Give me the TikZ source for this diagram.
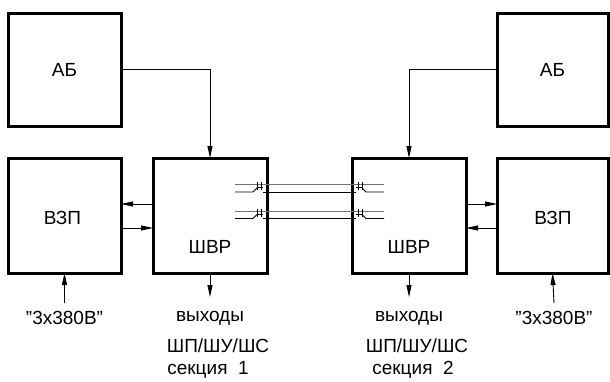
\documentclass[tikz,border=0pt]{standalone}
\usepackage{fontspec}
\setmainfont{Liberation Sans}
\usetikzlibrary{arrows.meta,calc}
\begin{document}
\begin{tikzpicture}[x=1pt,y=-1pt,
  box/.style={draw,line width=3pt,inner sep=0pt,outer sep=0pt},
  txt/.style={inner sep=0pt,font=\fontsize{19}{22}\selectfont},
  arr/.style={line width=0.9pt,-{Triangle[length=12pt,width=5pt]}},
  wire/.style={line width=0.9pt},
  wireg/.style={line width=1pt,draw=black!55}]
\useasboundingbox (0,0) rectangle (610,381);
% boxes
\node[box,minimum width=113pt,minimum height=113pt] (ab1) at (64.5,69.5) {};
\node[box,minimum width=113pt,minimum height=115pt] (vzp1) at (64.5,215.5) {};
\node[box,minimum width=114pt,minimum height=115pt] (shvr1) at (210,215.5) {};
\node[box,minimum width=114pt,minimum height=115pt] (shvr2) at (409,215.5) {};
\node[box,minimum width=111pt,minimum height=113pt] (ab2) at (552.5,69.5) {};
\node[box,minimum width=111pt,minimum height=115pt] (vzp2) at (552.5,215.5) {};
% box texts
\node[txt] (tab1) at (64.5,69.5) {АБ};
\node[txt] (tab2) at (552.5,69.5) {АБ};
\node[txt] (tvzp1) at (62.5,218) {ВЗП};
\node[txt] (tvzp2) at (553,218) {ВЗП};
\node[txt] (tshvr1) at (210,247) {ШВР};
\node[txt] (tshvr2) at (409,247) {ШВР};
% inputs
\node[txt] (in1) at (64.5,318) {"3x380В"};
\node[txt] (in2) at (554,318) {"3x380В"};
\coordinate (in1a) at (64.5,303);
\coordinate (in2a) at (554,303);
\draw[arr] (in1a) -- (vzp1.south);
\draw[arr] (in2a) -- (vzp2.south);
% outputs
\coordinate (o1) at (210,297);
\coordinate (o2) at (409,297);
\draw[arr] (shvr1.south) -- (o1);
\draw[arr] (shvr2.south) -- (o2);
\node[txt] (out1a) at (210,318) {выходы};
\node[txt] (out1b) at (218,346) {ШП/ШУ/ШС};
\node[txt] (out1c) at (208,370) {секция\ \ 1};
\node[txt] (out2a) at (409,318) {выходы};
\node[txt] (out2b) at (417,346) {ШП/ШУ/ШС};
\node[txt] (out2c) at (413,370) {секция\ \ 2};
% AB -> SHVR
\draw[arr] (ab1.east) -| (shvr1.north);
\draw[arr] (ab2.west) -| (shvr2.north);
% VZP <-> SHVR
\draw[arr] ([yshift=11.5pt]shvr1.west) -- ([yshift=11.5pt]vzp1.east);
\draw[arr] ([yshift=-12.5pt]vzp1.east) -- ([yshift=-12.5pt]shvr1.west);
\draw[arr] ([yshift=11.5pt]shvr2.east) -- ([yshift=11.5pt]vzp2.west);
\draw[arr] ([yshift=-12.5pt]vzp2.west) -- ([yshift=-12.5pt]shvr2.east);
% cables
\foreach \yt/\yb in {184/192,211/218.5}{
  \draw[wireg] (235,\yt) -- (384,\yt);
  \draw[wire] (235,\yb) -- (253,\yb) -- (257,\yb-4);
  \draw[wire] (257,\yt-2) -- (257,\yb-2);
  \draw[wire] (261,\yt-2) -- (261,\yb-2);
  \draw[wire] (257,\yt+3) -- (263,\yt+3);
  \draw[wire] (263,\yb) -- (356,\yb);
  \draw[wire] (384,\yb) -- (366,\yb) -- (362,\yb-4);
  \draw[wire] (362,\yt-2) -- (362,\yb-2);
  \draw[wire] (358,\yt-2) -- (358,\yb-2);
  \draw[wire] (362,\yt+3) -- (356,\yt+3);
}
\end{tikzpicture}
\end{document}
